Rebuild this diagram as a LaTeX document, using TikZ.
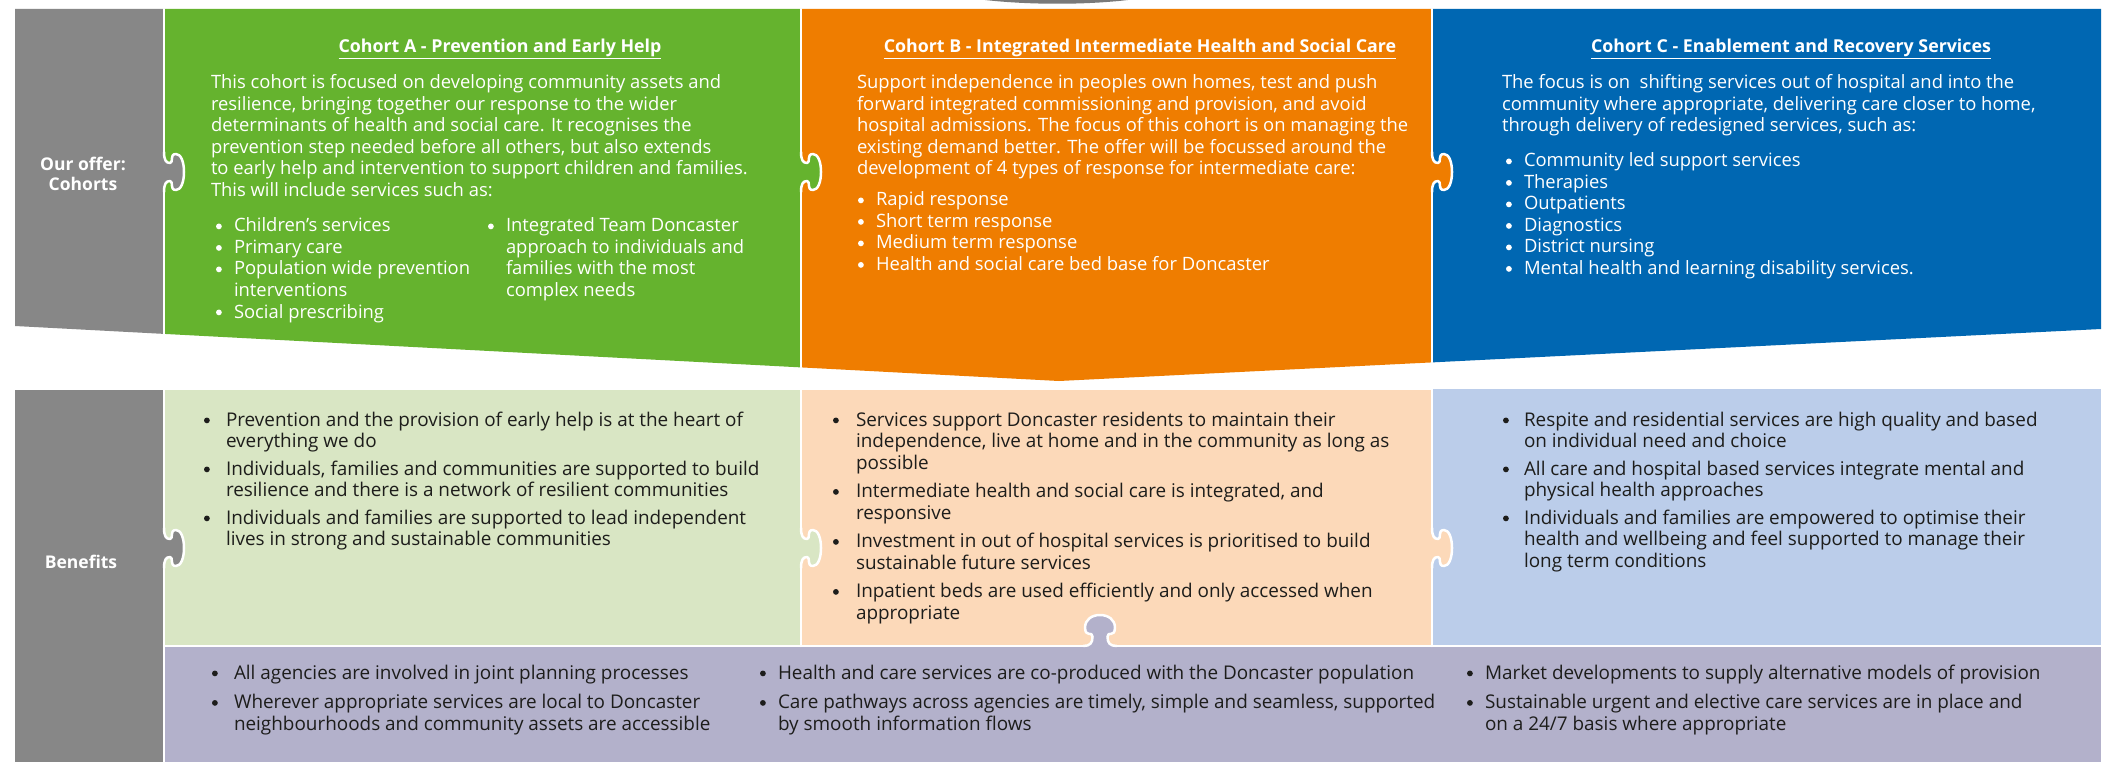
\documentclass[tikz,border=0pt]{standalone}
\usepackage{fontspec}
\setmainfont{Open Sans}
\definecolor{cgray}{HTML}{878787}
\definecolor{cgreen}{HTML}{65B32E}
\definecolor{corange}{HTML}{EF7D00}
\definecolor{cblue}{HTML}{0067B2}
\definecolor{lgreen}{HTML}{D9E6C4}
\definecolor{lpeach}{HTML}{FCD9B9}
\definecolor{lblue}{HTML}{BBCDEA}
\definecolor{lpurple}{HTML}{B3B1CB}
\definecolor{darktext}{HTML}{1D1D1B}
\newlength{\bw}
\newcommand{\tabt}[1]{\begin{tabular}[t]{@{}l@{}}#1\end{tabular}}
\newcommand{\bdot}{\tikz[baseline=-5.6pt]\fill (0pt,0pt) circle[radius=2.9pt];}
\newcommand{\bu}{\makebox[\bw][l]{\bdot}}
\newcommand{\ct}{\hspace*{\bw}}
\tikzset{
  txt/.style={anchor=base west, inner sep=0pt, outer sep=0pt, font=\fontsize{18.4}{21.5}\selectfont},
  wtxt/.style={txt, text=white},
  btxt/.style={txt, text=darktext, font=\fontsize{18.9}{21.5}\selectfont},
  ttl/.style={anchor=base, inner sep=0pt, text=white, font=\fontsize{17.8}{21.5}\selectfont\bfseries},
  lbl/.style={anchor=center, inner sep=0pt, text=white, align=center, font=\fontsize{17.5}{19.5}\selectfont\bfseries},
  sep/.style={draw=white, line width=2.5pt, line join=round, line cap=round},
  pics/knob/.style={code={
    \fill[#1] (0,-20) .. controls (0,-12) and (2,-9) .. (6,-9)
      .. controls (10,-9) and (5,-18) .. (12,-18)
      .. controls (17,-18) and (20,-10) .. (20,0)
      .. controls (20,10) and (17,18) .. (12,18)
      .. controls (5,18) and (10,9) .. (6,9)
      .. controls (2,9) and (0,12) .. (0,20) -- cycle;
    \draw[sep] (0,-20) .. controls (0,-12) and (2,-9) .. (6,-9)
      .. controls (10,-9) and (5,-18) .. (12,-18)
      .. controls (17,-18) and (20,-10) .. (20,0)
      .. controls (20,10) and (17,18) .. (12,18)
      .. controls (5,18) and (10,9) .. (6,9)
      .. controls (2,9) and (0,12) .. (0,20);
  }}
}
\begin{document}
\begin{tikzpicture}[x=1pt,y=-1pt]
\useasboundingbox (0,0) rectangle (2109,762);
\fill[white] (0,0) rectangle (2109,762);
% top lens
\fill[cgray!90!black] (985,0) .. controls (1030,5) and (1085,5) .. (1128,0) -- cycle;
% top row
\fill[cgray] (15,9) -- (164,9) -- (164,333.9) -- (15,326) -- cycle;
\fill[cgreen] (164,9) -- (801,9) -- (801,367.4) -- (164,333.9) -- cycle;
\fill[corange] (801,9) -- (1432,9) -- (1432,362.4) -- (1059,381) -- (801,367.4) -- cycle;
\fill[cblue] (1432,9) -- (2101,9) -- (2101,329) -- (1432,362.4) -- cycle;
\pic at (164,172) {knob=cgray};
\pic at (801,172) {knob=cgreen};
\pic at (1432,172) {knob=corange};
\draw[sep] (164,9) -- (164,152); \draw[sep] (164,192) -- (164,333.9);
\draw[sep] (801,9) -- (801,152); \draw[sep] (801,192) -- (801,367.4);
\draw[sep] (1432,9) -- (1432,152); \draw[sep] (1432,192) -- (1432,362.4);
% bottom row
\fill[cgray] (15,390) rectangle (164,762);
\fill[lgreen] (164,390) rectangle (801,646);
\fill[lpeach] (801,390) rectangle (1432,646);
\fill[lblue] (1432,389) rectangle (2101,646);
\fill[lpurple] (164,646) rectangle (2101,762);
\pic at (164,548) {knob=cgray};
\pic at (801,548) {knob=lgreen};
\pic at (1432,548) {knob=lpeach};
\pic[rotate=90, xscale=1.55, yscale=0.83] at (1100,646) {knob=lpurple};
\draw[sep] (164,390) -- (164,528); \draw[sep] (164,568) -- (164,762);
\draw[sep] (801,390) -- (801,528); \draw[sep] (801,568) -- (801,646);
\draw[sep] (1432,389) -- (1432,528); \draw[sep] (1432,568) -- (1432,646);
\draw[sep] (164,646) -- (1083.4,646); \draw[sep] (1116.6,646) -- (2101,646);
% labels
\node[lbl] (offer) at (83,174) {Our offer:\\Cohorts};
\node[lbl] (benefits) at (81,562) {Benefits};
% titles
\node[ttl] (tA) at (500,53) {\underline{Cohort A - Prevention and Early Help}};
\node[ttl] (tB) at (1140,53) {\underline{Cohort B - Integrated Intermediate Health and Social Care}};
\node[ttl] (tC) at (1791,53) {\underline{Cohort C - Enablement and Recovery Services}};
% cohort A
\node[wtxt] (bodyA) at (211,89) {\tabt{This cohort is focused on developing community assets and\\
resilience, bringing together our response to the wider\\
determinants of health and social care. It recognises the\\
prevention step needed before all others, but also extends\\
to early help and intervention to support children and families.\\
This will include services such as:}};
\node[wtxt] (listA1) at (216,232) {\setlength{\bw}{18pt}\tabt{\bu Children’s services\\
\bu Primary care\\
\bu Population wide prevention\\
\ct interventions\\
\bu Social prescribing}};
\node[wtxt] (listA2) at (488,232) {\setlength{\bw}{18pt}\tabt{\bu Integrated Team Doncaster\\
\ct approach to individuals and\\
\ct families with the most\\
\ct complex needs}};
% cohort B
\node[wtxt] (bodyB) at (857,89) {\tabt{Support independence in peoples own homes, test and push\\
forward integrated commissioning and provision, and avoid\\
hospital admissions. The focus of this cohort is on managing the\\
existing demand better. The offer will be focussed around the\\
development of 4 types of response for intermediate care:}};
\node[wtxt] (listB) at (858,206) {\setlength{\bw}{18pt}\tabt{\bu Rapid response\\
\bu Short term response\\
\bu Medium term response\\
\bu Health and social care bed base for Doncaster}};
% cohort C
\node[wtxt] (bodyC) at (1502,89) {\tabt{The focus is on\ \ shifting services out of hospital and into the\\
community where appropriate, delivering care closer to home,\\
through delivery of redesigned services, such as:}};
\node[wtxt] (listC) at (1506,167) {\setlength{\bw}{18pt}\tabt{\bu Community led support services\\
\bu Therapies\\
\bu Outpatients\\
\bu Diagnostics\\
\bu District nursing\\
\bu Mental health and learning disability services.}};
% benefits A
\node[btxt] (benA) at (204,426) {\setlength{\bw}{22pt}\tabt{\bu Prevention and the provision of early help is at the heart of\\
\ct everything we do\\[6pt]
\bu Individuals, families and communities are supported to build\\
\ct resilience and there is a network of resilient communities\\[6pt]
\bu Individuals and families are supported to lead independent\\
\ct lives in strong and sustainable communities}};
% benefits B
\node[btxt] (benB) at (833,426) {\setlength{\bw}{23pt}\tabt{\bu Services support Doncaster residents to maintain their\\
\ct independence, live at home and in the community as long as\\
\ct possible\\[7pt]
\bu Intermediate health and social care is integrated, and\\
\ct responsive\\[7pt]
\bu Investment in out of hospital services is prioritised to build\\
\ct sustainable future services\\[7pt]
\bu Inpatient beds are used efficiently and only accessed when\\
\ct appropriate}};
% benefits C
\node[btxt] (benC) at (1503,426) {\setlength{\bw}{21pt}\tabt{\bu Respite and residential services are high quality and based\\
\ct on individual need and choice\\[6pt]
\bu All care and hospital based services integrate mental and\\
\ct physical health approaches\\[6pt]
\bu Individuals and families are empowered to optimise their\\
\ct health and wellbeing and feel supported to manage their\\
\ct long term conditions}};
% purple
\node[btxt] (pur1) at (212,679) {\setlength{\bw}{22pt}\tabt{\bu All agencies are involved in joint planning processes\\[8pt]
\bu Wherever appropriate services are local to Doncaster\\
\ct neighbourhoods and community assets are accessible}};
\node[btxt] (pur2) at (760,679) {\setlength{\bw}{18pt}\tabt{\bu Health and care services are co-produced with the Doncaster population\\[8pt]
\bu Care pathways across agencies are timely, simple and seamless, supported\\
\ct by smooth information flows}};
\node[btxt] (pur3) at (1467,679) {\setlength{\bw}{18pt}\tabt{\bu Market developments to supply alternative models of provision\\[8pt]
\bu Sustainable urgent and elective care services are in place and\\
\ct on a 24/7 basis where appropriate}};
\end{tikzpicture}
\end{document}
